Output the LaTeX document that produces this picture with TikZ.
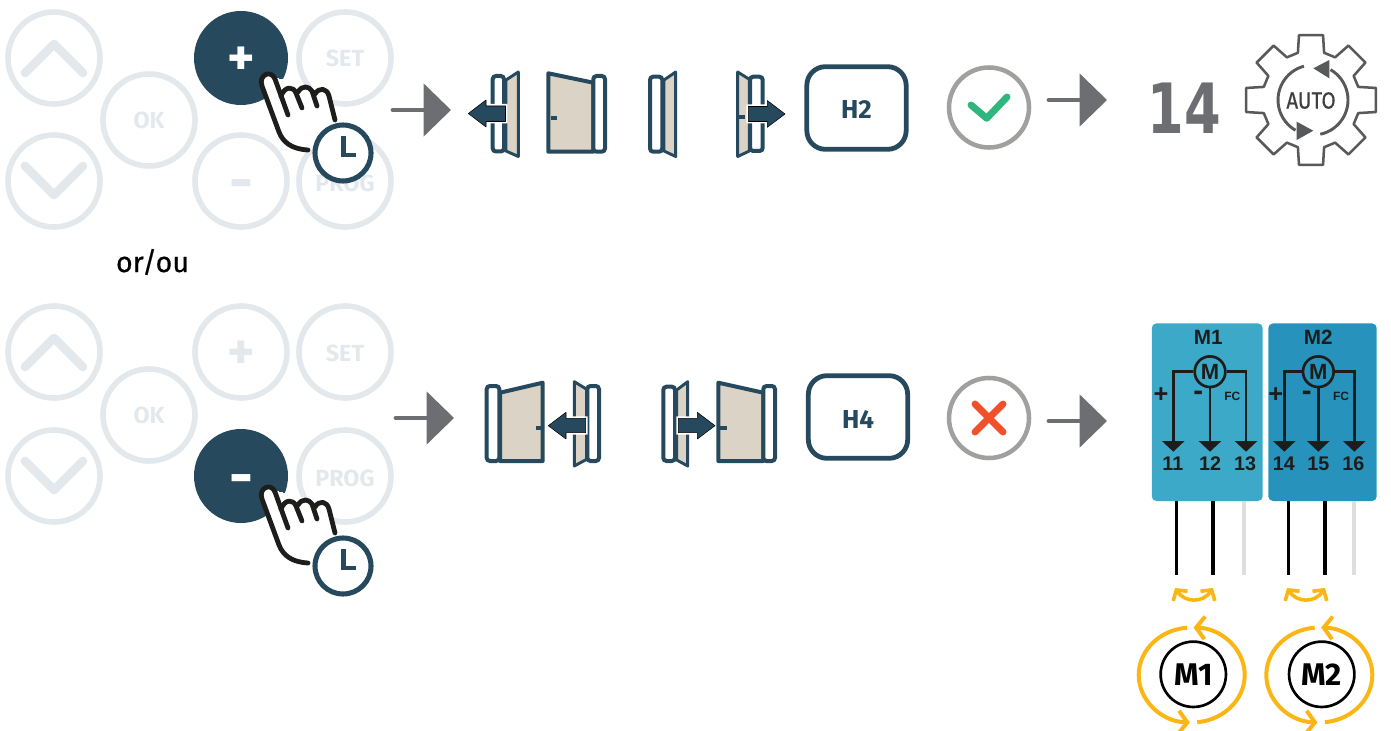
\documentclass[tikz,border=0pt]{standalone}
\usepackage{fontspec}
\usepackage{xcolor}
\usetikzlibrary{arrows.meta}
\setmainfont{Fira Sans}
\newfontfamily\wirefont{Liberation Sans}
\newfontfamily\countfont{DejaVu Sans}
\newfontfamily\heavyfont[FakeBold=0.5]{Fira Sans}
\definecolor{padgrey}{HTML}{E3E8EC}
\definecolor{deepblue}{HTML}{26495E}
\definecolor{leafbeige}{HTML}{DBD3C5}
\definecolor{flowgrey}{HTML}{6D6E71}
\definecolor{ringgrey}{HTML}{A0A09E}
\definecolor{okgreen}{HTML}{2FB67C}
\definecolor{stopred}{HTML}{F0512A}
\definecolor{gearink}{HTML}{58595B}
\definecolor{boxone}{HTML}{3DA9C9}
\definecolor{boxtwo}{HTML}{2793BD}
\definecolor{turnyellow}{HTML}{FBB615}
\definecolor{wireink}{HTML}{1D1D1B}
\newcommand{\fs}[1]{\fontsize{#1}{#1}\selectfont}
\newcommand{\dropped}[2]{\raisebox{-#1pt}[0pt][0pt]{#2}}
\tikzset{
  padkey/.style={circle,draw=padgrey,line width=4.2pt,minimum size=69pt,inner sep=0pt,
    text=padgrey,font=\fs{17.5}\bfseries},
  padlive/.style={circle,fill=deepblue,minimum size=70.5pt,inner sep=0pt,text=white,
    font=\fs{17.5}\bfseries},
  chevron/.style={padgrey,line width=6.5pt,line cap=round,line join=round},
  flowarrow/.style={flowgrey,line width=3.6pt,line cap=round,
    -{Triangle[length=20.5pt 0 0,width=39pt 0 0]}},
  doorframe/.style={draw=deepblue,fill=white,line width=3pt,rounded corners=2.4pt},
  doorleaf/.style={draw=deepblue,fill=leafbeige,line width=2.2pt,line join=round},
  bigleaf/.style={doorleaf,line width=3pt},
  doorgrip/.style={deepblue,line width=3pt},
  doorarrow/.style={fill=deepblue,preaction={draw=white,line width=3pt},line join=round},
  modebox/.style={draw=deepblue,line width=3.6pt,rounded corners=14pt,minimum width=74.5pt,
    minimum height=62pt,text=deepblue,font=\fs{19.5}\bfseries},
  statusring/.style={circle,draw=ringgrey,line width=3.4pt,minimum size=60pt,inner sep=0pt},
  wiring/.style={wireink,line width=2pt},
  wirehead/.style={wiring,-{Triangle[length=8pt 0 0,width=16.5pt 0 0]}},
  wirelabel/.style={inner sep=0pt,text=wireink,font=\fs{14.8}\wirefont\bfseries},
  turnarrow/.style={turnyellow,line width=3pt,
    -{Straight Barb[length=6.5pt,width=17pt,line width=3pt]}},
  swaparrow/.style={turnyellow,line width=2.7pt,
    {Straight Barb[length=5.5pt,width=13pt]}-{Straight Barb[length=5.5pt,width=13pt]}},
}
% finger outline and timer badge, drawn at the position of the upper keypad
\newcommand{\pressinghand}{
  \draw[white,fill=white,line width=0pt]
    (262,84) -- (280,136) -- (310,150) -- (335,125) -- (325,90) -- (275,78) -- cycle;
  \draw[wireink,line width=3.6pt,line cap=round,line join=round,fill=white]
    (308,150) .. controls (291,149) and (283,142) .. (279,132)
    -- (262,86) .. controls (258,75) and (271,69) .. (275,79)
    -- (288,115);
  \draw[wireink,line width=3.6pt,line cap=round,line join=round]
    (281,96) .. controls (285,86) and (293,86) .. (296,93) -- (302,108)
    (298,92) .. controls (302,85) and (309,86) .. (312,91) -- (317,106)
    (315,94) .. controls (319,87) and (327,88) .. (329,96) -- (335,120);
  \draw[fill=white,draw=deepblue,line width=3.8pt] (343,153) circle (28);
  \draw[deepblue,line width=3.6pt] (343.3,136) -- (343.3,155) -- (356,155);
}
\begin{document}
\begin{tikzpicture}[x=0.75pt,y=0.75pt,yscale=-1]
  \useasboundingbox (0,0) rectangle (1391,731);

  % Keypads: the upper one presses +, the lower one presses -.
  \foreach \nm/\kx/\ky/\lab/\dr in {
    oka/149/120/OK/6.7,seta/345/58/SET/6.3,proga/345/181/PROG/7.5,
    okb/149/415/OK/6.7,setb/345/352/SET/6.8,progb/345/476/PROG/7.5}{
    \node[padkey] (\nm) at (\kx,\ky) {\dropped{\dr}{\lab}};
  }
  \foreach \nm/\kx/\ky in {upa/54/58,downa/54/181,upb/54/352,downb/54/476}{
    \node[padkey] (\nm) at (\kx,\ky) {};
  }
  \node[padkey,font=\fs{44}\bfseries] (minusa) at (241,181) {\dropped{15}{-}};
  \node[padkey,font=\fs{39}\bfseries] (plusb) at (241,352) {\dropped{13}{+}};
  \foreach \ky in {58,352}{
    \draw[chevron] (25,\ky+15) -- (54,\ky-14) -- (83,\ky+15);
  }
  \foreach \ky in {181,476}{
    \draw[chevron] (25,\ky-15) -- (54,\ky+14) -- (83,\ky-15);
  }
  \node[padlive,font=\fs{39}\bfseries] (plusa) at (241,58) {\dropped{13}{+}};
  \node[padlive,font=\fs{44}\bfseries] (minusb) at (241,476) {\dropped{15}{-}};
  \pressinghand
  \begin{scope}[shift={(0,413)}]
    \pressinghand
  \end{scope}
  \node[inner sep=0pt,font=\fs{21.5}\heavyfont] (orou) at (152.5,262) {or/ou};

  % Grey flow arrows.
  \foreach \nm/\ax/\bx/\ky in {one/393/451/110,two/396/454/418,three/1049/1107/100,four/1049/1107/421}{
    \coordinate (\nm from) at (\ax,\ky);
    \coordinate (\nm to) at (\bx,\ky);
    \draw[flowarrow] (\nm from) -- (\nm to);
  }

  % Upper row of gates.
  \draw[doorframe] (492.7,76) rectangle (504,151.5);
  \draw[doorleaf] (506,80) -- (518.3,72) -- (518.3,156.5) -- (506,151) -- cycle;
  \draw[doorarrow] (505.5,106) -- (486,106) -- (486,100) -- (468.3,113.5) -- (486,127) -- (486,121.5) -- (505.5,121.5) -- cycle;
  \draw[bigleaf] (548.3,73.3) -- (593.3,82.7) -- (593.3,151.7) -- (548.3,151.7) -- cycle;
  \draw[doorframe] (593.3,76) rectangle (605,151.7);
  \draw[doorgrip] (551,118.3) -- (556.7,118.3);
  \draw[doorframe] (650,76.7) rectangle (662.3,151.7);
  \draw[doorleaf] (664,80) -- (675.7,72) -- (675.7,156.5) -- (664,151) -- cycle;
  \draw[doorframe] (750,76.7) rectangle (762.7,151);
  \draw[doorleaf] (737.7,72) -- (749.3,79.3) -- (749.3,151) -- (737.7,156.5) -- cycle;
  \draw[doorgrip] (738.3,116.7) -- (745,116.7);
  \draw[doorarrow] (748.3,106.5) -- (767.3,106.5) -- (767.3,100.5) -- (785,114) -- (767.3,127.3) -- (767.3,121.5) -- (748.3,121.5) -- cycle;

  % Lower row of gates.
  \draw[doorframe] (486.7,386) rectangle (499.3,461);
  \draw[bigleaf] (500,392.7) -- (542.7,382.7) -- (542.7,461) -- (500,461) -- cycle;
  \draw[doorgrip] (535.7,427.7) -- (541.7,427.7);
  \draw[doorleaf] (574.3,381.7) -- (586.7,389.3) -- (586.7,459.3) -- (574.3,466) -- cycle;
  \draw[doorframe] (587.3,386) rectangle (599,461);
  \draw[doorarrow] (585.7,418.3) -- (566,418.3) -- (566,412.3) -- (548.3,425.7) -- (566,439) -- (566,432.7) -- (585.7,432.7) -- cycle;
  \draw[doorframe] (663.3,386.7) rectangle (675,461);
  \draw[doorleaf] (676.7,390) -- (687.7,381.7) -- (687.7,466) -- (676.7,460) -- cycle;
  \draw[doorarrow] (678.3,418.3) -- (697.3,418.3) -- (697.3,412.3) -- (715,425.7) -- (697.3,439) -- (697.3,432.7) -- (678.3,432.7) -- cycle;
  \draw[bigleaf] (718.3,382.7) -- (763.3,392.7) -- (763.3,461) -- (718.3,461) -- cycle;
  \draw[doorframe] (763.3,386) rectangle (775,461);
  \draw[doorgrip] (720,427.7) -- (726.7,427.7);

  % Mode boxes and result marks.
  \node[modebox] (htwo) at (856.5,108) {\dropped{8.2}{H2}};
  \node[modebox] (hfour) at (858,417) {\dropped{8.9}{H4}};
  \node[statusring] (okring) at (989,107.5) {};
  \node[statusring] (noring) at (989,418) {};
  \draw[okgreen,line width=5.2pt,line cap=round,line join=round]
    (971,105) -- (986.7,118.3) -- (1007,97);
  \draw[stopred,line width=5.2pt,line cap=round] (975,404) -- (1003,432) (1003,404) -- (975,432);

  % Step count and gear.
  \node[inner sep=0pt,text=flowgrey,font=\fs{52}\countfont\bfseries] (count) at (1184,108)
    {\scalebox{0.76}[1]{14}};
  \begin{scope}[shift={(1311,100)}]
    \draw[gearink,line width=1.9pt,line join=round] (-15.5:49)
      \foreach \a in {0,45,...,315}{
        -- (\a-15.5:49) -- (\a-10.5:66) -- (\a+10.5:66) -- (\a+15.5:49)
      } -- cycle;
  \end{scope}
  \draw[gearink,line width=2.2pt] (1313,100)++(255:35) arc[start angle=255,end angle=120,radius=35];
  \draw[gearink,line width=2.2pt] (1313,100)++(78:35) arc[start angle=78,end angle=-60,radius=35];
  \fill[gearink] (1313.3,130.7) -- (1296.7,121.7) -- (1296.7,140) -- cycle;
  \fill[gearink] (1313.3,68.3) -- (1329.3,60) -- (1329.3,78.3) -- cycle;
  \node[inner sep=0pt,text=wireink!85,font=\fs{17.5}\heavyfont] (auto) at (1311,100.5) {\scalebox{0.88}[1]{AUTO}};

  % Motor connection panels.
  \node[fill=boxone,rounded corners=3.5pt,minimum width=83.2pt,minimum height=133.2pt] (panela) at (1207.2,412.2) {};
  \node[fill=boxtwo,rounded corners=3.5pt,minimum width=81.3pt,minimum height=133.2pt] (panelb) at (1322.5,412.2) {};
  \foreach \n/\lx/\mx/\rx/\lnum/\mnum/\rnum/\tx/\px/\dx/\fx in {
    1/1173.3/1210/1246/11/12/13/1208.3/1161/1198.3/1232.3,
    2/1284.3/1318.3/1354.3/14/15/16/1318.3/1275.7/1306.7/1341}{
    \node[wirelabel,font=\fs{15.5}\wirefont\bfseries] (title\n) at (\tx,337.7) {M\n};
    \node[circle,draw=wireink,line width=2pt,minimum size=23pt,inner sep=0pt,
      font=\fs{16.5}\wirefont\bfseries,text=wireink] (motor\n) at (\mx,371.7) {M};
    \coordinate (tipl\n) at (\lx,451.7);
    \coordinate (tipm\n) at (\mx,451.7);
    \coordinate (tipr\n) at (\rx,451.7);
    \draw[wirehead] (motor\n.west) -| (tipl\n);
    \draw[wirehead] (motor\n.south) -- (tipm\n);
    \draw[wirehead] (motor\n.east) -| (tipr\n);
    \node[wirelabel] (numl\n) at (\lx-0.5,463.5) {\lnum};
    \node[wirelabel] (numm\n) at (\mx,463.5) {\mnum};
    \node[wirelabel] (numr\n) at (\rx-1,463.5) {\rnum};
    \node[wirelabel,font=\fs{19}\wirefont\bfseries] (plus\n) at (\px,395.5) {+};
    \node[wirelabel,font=\fs{22}\wirefont\bfseries] (minus\n) at (\dx,395.5) {-};
    \node[wirelabel,font=\fs{9}\wirefont\bfseries] (fc\n) at (\fx,396) {FC};
  }

  % Leads, reversal marks and motors.
  \foreach \nm/\ax/\bx/\cx/\ox/\sx in {a/1176.3/1213/1244/1191.7/1194,b/1288.3/1325/1354/1319.3/1306}{
    \coordinate (lead\nm one) at (\ax,574.5);
    \coordinate (lead\nm two) at (\bx,574.5);
    \coordinate (lead\nm three) at (\cx,574.5);
    \draw[black,line width=2.6pt] (panel\nm.south -| lead\nm one) -- (lead\nm one);
    \draw[black,line width=2.6pt] (panel\nm.south -| lead\nm two) -- (lead\nm two);
    \draw[black!13,line width=2.6pt] (panel\nm.south -| lead\nm three) -- (lead\nm three);
    \coordinate (swap\nm l) at (\sx-19,588);
    \coordinate (swap\nm r) at (\sx+19,588);
    \draw[swaparrow] (swap\nm l) .. controls (\sx-9,603) and (\sx+9,603) .. (swap\nm r);
    \draw[turnarrow] (\ox,675)++(265:53 and 47.5) arc[start angle=265,end angle=92,x radius=53,y radius=47.5];
    \draw[turnarrow] (\ox,675)++(84:53 and 47.5) arc[start angle=84,end angle=-88,x radius=53,y radius=47.5];
  }
  \node[circle,draw=black,line width=2pt,minimum size=49pt,inner sep=0pt,font=\fs{23.5}\bfseries] (rotora) at (1193.3,674.3) {\dropped{8.1}{M1}};
  \node[circle,draw=black,line width=2pt,minimum size=49pt,inner sep=0pt,font=\fs{23.5}\bfseries] (rotorb) at (1321.7,674.3) {\dropped{8.1}{M2}};
\end{tikzpicture}
\end{document}
